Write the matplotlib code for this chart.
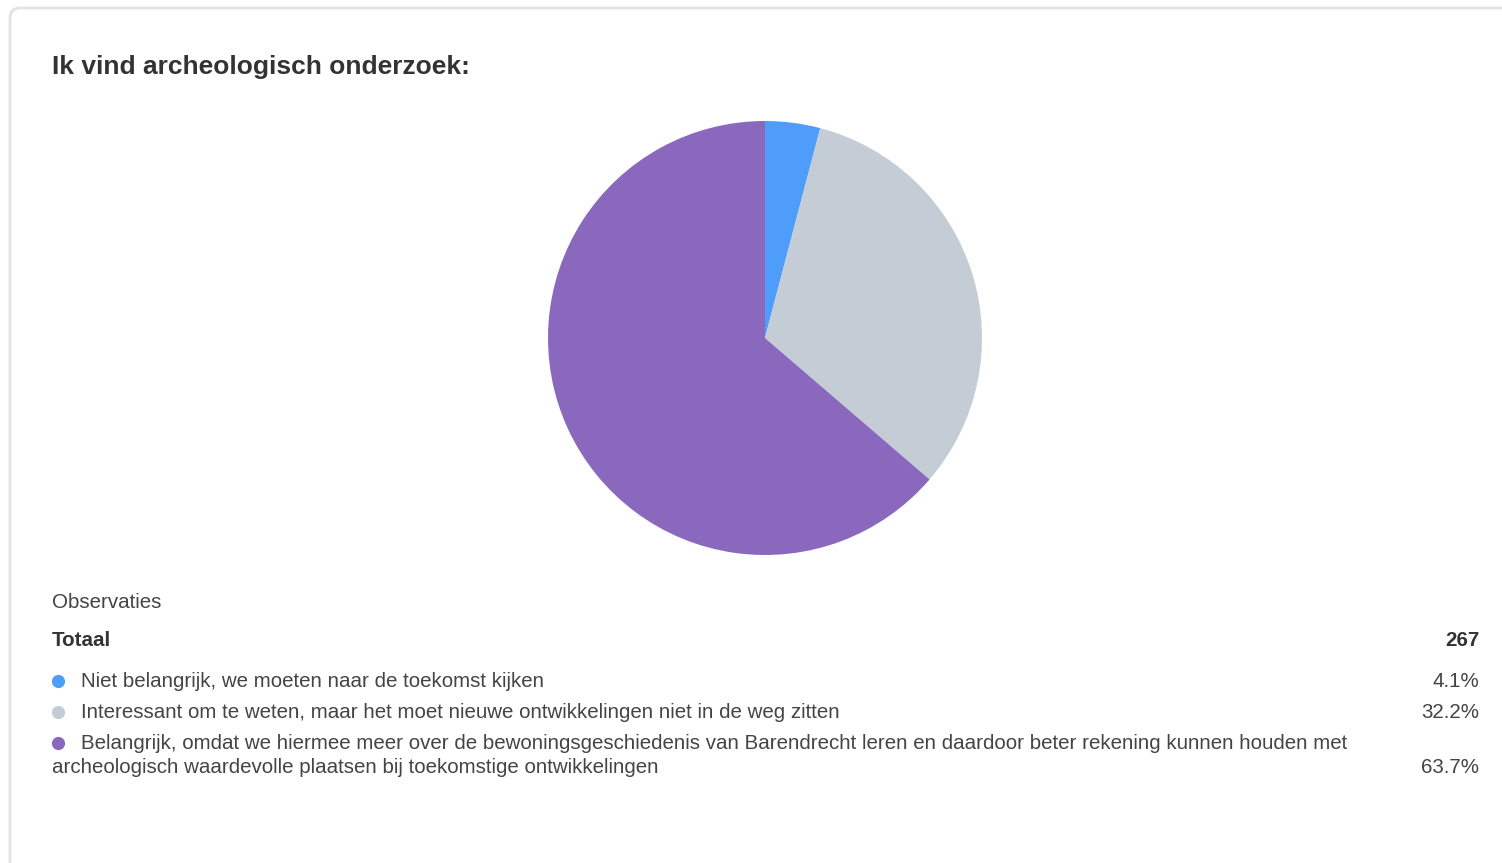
import matplotlib.pyplot as plt
from matplotlib.patches import FancyBboxPatch

plt.rcParams['font.family'] = ['Liberation Sans', 'DejaVu Sans']

title = "Ik vind archeologisch onderzoek:"
labels = [
    "Niet belangrijk, we moeten naar de toekomst kijken",
    "Interessant om te weten, maar het moet nieuwe ontwikkelingen niet in de weg zitten",
    "Belangrijk, omdat we hiermee meer over de bewoningsgeschiedenis van Barendrecht leren en daardoor beter rekening kunnen houden met\narcheologisch waardevolle plaatsen bij toekomstige ontwikkelingen",
]
shares = [4.1, 32.2, 63.7]
total = 267
colors = ['#4f9dfb', '#c4cdd6', '#8a68bd']

W, H = 1502, 863
fig = plt.figure(figsize=(W / 100, H / 100), dpi=100)
fig.patch.set_facecolor('white')

# background axes in pixel coordinates for card + text
bg = fig.add_axes([0, 0, 1, 1], zorder=0)
bg.set_xlim(0, W)
bg.set_ylim(H, 0)
bg.axis('off')

card = FancyBboxPatch((10, 8), W + 40, H + 20,
                      boxstyle="round,pad=0,rounding_size=10",
                      facecolor='white', edgecolor='#e3e3e3', lw=2)
bg.add_patch(card)

bg.text(52, 67, title, fontsize=19, fontweight='bold', color='#333333', va='center')

txt = '#444444'
fs = 14.8
bg.text(52, 602, "Observaties", fontsize=fs, color=txt, va='center')
bg.text(52, 640, "Totaal", fontsize=fs, fontweight='bold', color='#333333', va='center')
bg.text(1479, 640, str(total), fontsize=fs, fontweight='bold', color='#333333',
        va='center', ha='right')

rows_y = [681, 712, 743]
pct_y = [681, 712, 767]
for lab, s, c, y, py in zip(labels, shares, colors, rows_y, pct_y):
    bg.plot(58, y, 'o', ms=9.5, color=c, mec='none')
    if '\n' in lab:
        first, second = lab.split('\n')
        bg.text(81, y, first, fontsize=fs, color=txt, va='center')
        bg.text(52, y + 24, second, fontsize=fs, color=txt, va='center')
    else:
        bg.text(81, y, lab, fontsize=fs, color=txt, va='center')
    bg.text(1479, py, f"{s}%", fontsize=fs, color=txt, va='center', ha='right')

# pie
cx, cy, r = 765, 338, 217
ax = fig.add_axes([(cx - r) / W, (H - cy - r) / H, 2 * r / W, 2 * r / H], zorder=1)
ax.pie(shares, colors=colors, startangle=90, counterclock=False, radius=1,
       wedgeprops=dict(linewidth=0))
ax.set_xlim(-1, 1)
ax.set_ylim(-1, 1)
ax.axis('off')

fig.savefig('out.png', dpi=100, facecolor='white')
